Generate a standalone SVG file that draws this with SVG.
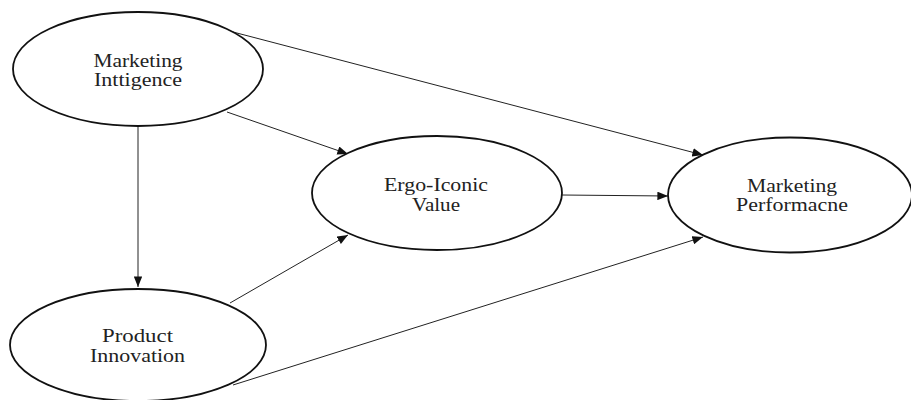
<svg xmlns="http://www.w3.org/2000/svg" width="911" height="400" viewBox="0 0 911 400">
  <style>
    .node ellipse { fill: #ffffff; stroke: #111111; stroke-width: 1.8; }
    .node text { font-family: "Liberation Serif", "Times New Roman", serif; font-size: 18.5px; fill: #222222; text-anchor: middle; }
    .edge { stroke: #222222; stroke-width: 1; fill: none; marker-end: url(#arrow); }
  </style>
  <defs>
    <marker id="arrow" viewBox="0 0 10 8" refX="10" refY="4" markerWidth="11" markerHeight="8.5" markerUnits="userSpaceOnUse" orient="auto">
      <path d="M0,0 L10,4 L0,8 Z" fill="#111111"/>
    </marker>
  </defs>
  <rect width="911" height="400" fill="#ffffff"/>

  <g id="connectors">
    <line class="edge" x1="138" y1="127" x2="138" y2="287"/>
    <line class="edge" x1="227" y1="112" x2="348" y2="154"/>
    <line class="edge" x1="233" y1="32" x2="703" y2="155"/>
    <line class="edge" x1="562" y1="195" x2="668" y2="196"/>
    <line class="edge" x1="230" y1="303" x2="348" y2="235"/>
    <line class="edge" x1="233" y1="385" x2="703" y2="237"/>
  </g>

  <g id="marketing-intelligence" class="node">
    <ellipse cx="138" cy="69" rx="125" ry="57"/>
    <text x="138" y="67" textLength="89" lengthAdjust="spacingAndGlyphs">Marketing</text>
    <text x="138" y="86" textLength="88" lengthAdjust="spacingAndGlyphs">Inttigence</text>
  </g>

  <g id="ergo-iconic-value" class="node">
    <ellipse cx="437" cy="193" rx="125" ry="57"/>
    <text x="436" y="191" textLength="104" lengthAdjust="spacingAndGlyphs">Ergo-Iconic</text>
    <text x="436" y="211" textLength="48" lengthAdjust="spacingAndGlyphs">Value</text>
  </g>

  <g id="marketing-performance" class="node">
    <ellipse cx="790" cy="195" rx="122" ry="57.5"/>
    <text x="792" y="192" textLength="90" lengthAdjust="spacingAndGlyphs">Marketing</text>
    <text x="792" y="211" textLength="112" lengthAdjust="spacingAndGlyphs">Performacne</text>
  </g>

  <g id="product-innovation" class="node">
    <ellipse cx="138" cy="345" rx="128" ry="56"/>
    <text x="137.5" y="342" textLength="71" lengthAdjust="spacingAndGlyphs">Product</text>
    <text x="137.5" y="362" textLength="95" lengthAdjust="spacingAndGlyphs">Innovation</text>
  </g>
</svg>
